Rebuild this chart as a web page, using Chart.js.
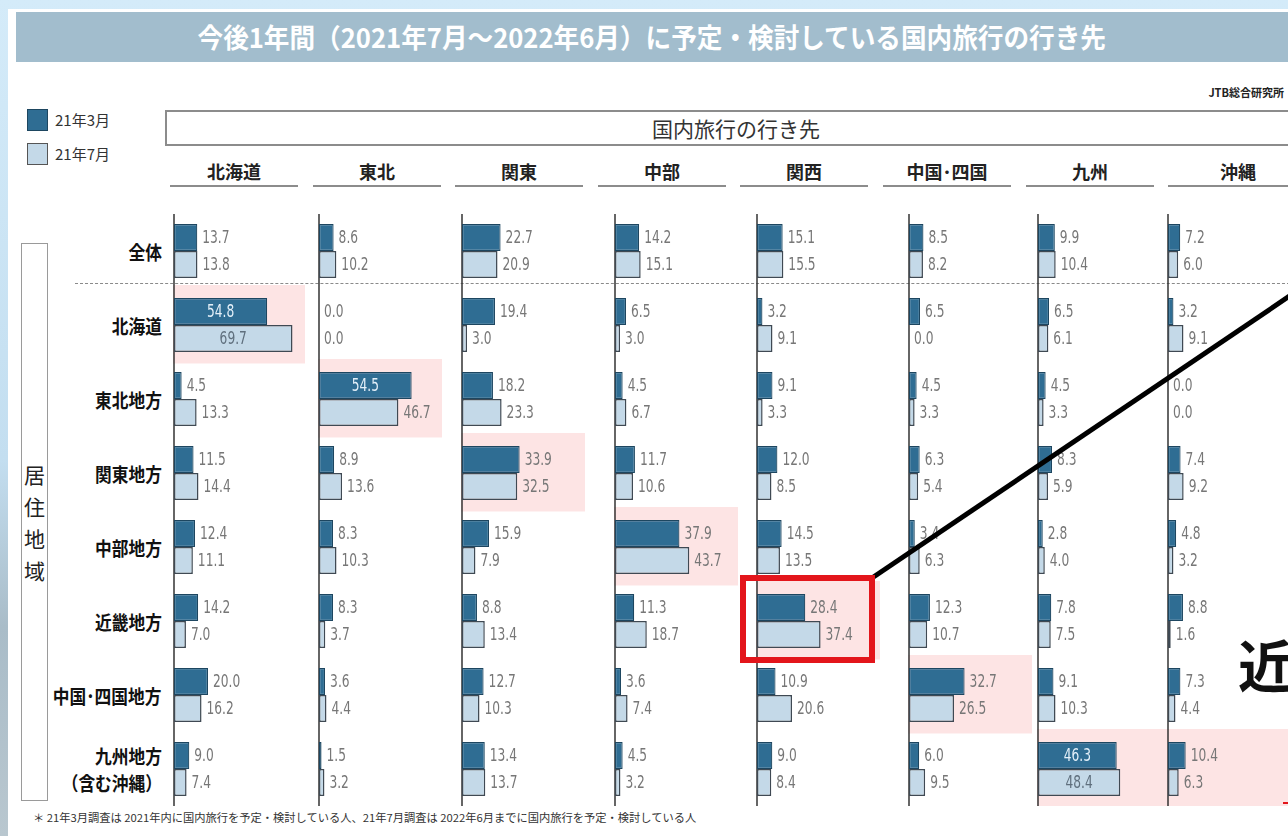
<!DOCTYPE html>
<html lang="ja">
<head>
<meta charset="utf-8">
<script src="https://cdn.jsdelivr.net/npm/chart.js@4.4.0/dist/chart.umd.min.js"></script>
<style>
  html, body { margin: 0; padding: 0; }
  body {
    width: 1288px; height: 836px; position: relative; overflow: hidden;
    background: linear-gradient(180deg, #d4ebf9 0%, #c3def0 55%, #a9bcc8 75%, #b9c7cf 100%);
    font-family: "Noto Sans CJK JP", sans-serif; color: #222;
  }
  .abs { position: absolute; }
  #page { left: 8px; top: 9px; right: 0; bottom: 0; background: #fff; }
  #banner { left: 16px; top: 12px; width: 1272px; height: 50px; background: #a2bdcd; text-align: center; }
  #title { display: inline-block; color: #fff; font-size: 27px; font-weight: 700; line-height: 50px; white-space: nowrap; transform-origin: center; }
  #src { right: 4px; top: 84px; font-size: 11px; font-weight: 700; color: #222; }
  .sw { width: 21px; height: 22px; box-sizing: border-box; }
  .lg { font-size: 15px; color: #333; line-height: 22px; }
  #hbox { left: 165px; top: 110px; width: 1140px; height: 36px; box-sizing: border-box;
          border: 2px solid #8c8c8c; border-right: none; text-align: center;
          font-size: 21px; line-height: 32px; color: #333; }
  .colh { height: 25px; border-bottom: 2px solid #8c8c8c; text-align: center;
          font-size: 18px; font-weight: 700; line-height: 22px; color: #222; }
  .rowl { right: 1126px; font-size: 19px; font-weight: 700; text-align: right; white-space: nowrap; color: #111;
          transform: scaleX(0.88); transform-origin: right center; }
  #areabox { left: 21px; top: 243px; width: 27px; height: 558px; box-sizing: border-box; border: 1.5px solid #9a9a9a; }
  #areatxt { left: 21px; width: 27px; text-align: center; font-size: 21px; line-height: 32px; color: #222; }
  #dash { left: 75px; top: 283px; width: 1220px; height: 0; border-top: 1.5px dashed #8a8a8a; }
  #note { left: 33px; top: 809px; font-size: 11px; color: #333; white-space: nowrap; transform-origin: left center; }
  #charts canvas { position: absolute; }
  #redbox { left: 740px; top: 575px; width: 135px; height: 88px; box-sizing: border-box; border: 6px solid #e3151b; }
  #big { left: 1238px; top: 634px; font-size: 56px; font-weight: 700; line-height: 58px; color: #111; white-space: nowrap; }
  #tick { left: 1283px; top: 802px; width: 6px; height: 2px; background: #e3151b; }
</style>
</head>
<body>
<div id="page" class="abs"></div>
<div id="banner" class="abs"><span id="title">今後1年間（2021年7月～2022年6月）に予定・検討している国内旅行の行き先</span></div>
<div id="src" class="abs">JTB総合研究所</div>
<div id="legend"></div>
<div id="hbox" class="abs">国内旅行の行き先</div>
<div id="heads"></div>
<div id="dash" class="abs"></div>
<div id="areabox" class="abs"></div>
<div id="areatxt" class="abs">居<br>住<br>地<br>域</div>
<div id="rows"></div>
<div id="charts"></div>
<div id="note" class="abs">＊ 21年3月調査は 2021年内に国内旅行を予定・検討している人、21年7月調査は 2022年6月までに国内旅行を予定・検討している人</div>
<svg class="abs" style="left:0;top:0" width="1288" height="836">
  <line x1="872" y1="578" x2="1300" y2="289" stroke="#000" stroke-width="5"/>
</svg>
<div id="redbox" class="abs"></div>
<div id="big" class="abs">近畿</div>
<div id="tick" class="abs"></div>

<script>
/* 居住地域 (rows) / 行き先 (columns) */
const areas = ['全体', '北海道', '東北地方', '関東地方', '中部地方', '近畿地方', '中国･四国地方', '九州地方\n（含む沖縄）'];
const dests = ['北海道', '東北', '関東', '中部', '関西', '中国･四国', '九州', '沖縄'];
const seriesNames = ['21年3月', '21年7月'];

/* 値 (%) : 21年3月 / 21年7月, rows in the order of areas */
const hokkaido_mar = [13.7, 54.8, 4.5, 11.5, 12.4, 14.2, 20.0, 9.0];
const hokkaido_jul = [13.8, 69.7, 13.3, 14.4, 11.1, 7.0, 16.2, 7.4];
const tohoku_mar = [8.6, 0.0, 54.5, 8.9, 8.3, 8.3, 3.6, 1.5];
const tohoku_jul = [10.2, 0.0, 46.7, 13.6, 10.3, 3.7, 4.4, 3.2];
const kanto_mar = [22.7, 19.4, 18.2, 33.9, 15.9, 8.8, 12.7, 13.4];
const kanto_jul = [20.9, 3.0, 23.3, 32.5, 7.9, 13.4, 10.3, 13.7];
const chubu_mar = [14.2, 6.5, 4.5, 11.7, 37.9, 11.3, 3.6, 4.5];
const chubu_jul = [15.1, 3.0, 6.7, 10.6, 43.7, 18.7, 7.4, 3.2];
const kansai_mar = [15.1, 3.2, 9.1, 12.0, 14.5, 28.4, 10.9, 9.0];
const kansai_jul = [15.5, 9.1, 3.3, 8.5, 13.5, 37.4, 20.6, 8.4];
const chushi_mar = [8.5, 6.5, 4.5, 6.3, 3.4, 12.3, 32.7, 6.0];
const chushi_jul = [8.2, 0.0, 3.3, 5.4, 6.3, 10.7, 26.5, 9.5];
const kyushu_mar = [9.9, 6.5, 4.5, 8.3, 2.8, 7.8, 9.1, 46.3];
const kyushu_jul = [10.4, 6.1, 3.3, 5.9, 4.0, 7.5, 10.3, 48.4];
const okinawa_mar = [7.2, 3.2, 0.0, 7.4, 4.8, 8.8, 7.3, 10.4];
const okinawa_jul = [6.0, 9.1, 0.0, 9.2, 3.2, 1.6, 4.4, 6.3];

const marByCol = [hokkaido_mar, tohoku_mar, kanto_mar, chubu_mar, kansai_mar, chushi_mar, kyushu_mar, okinawa_mar];
const julByCol = [hokkaido_jul, tohoku_jul, kanto_jul, chubu_jul, kansai_jul, chushi_jul, kyushu_jul, okinawa_jul];

/* cells with pink background: [column, row] */
const highlight = [[0, 1], [1, 2], [2, 3], [3, 4], [4, 5], [5, 6], [6, 7], [7, 7]];
/* labels written inside the bar: [column, row, dataset] */
const insideLabels = [[0, 1, 0], [0, 1, 1], [1, 2, 0], [6, 7, 0], [6, 7, 1]];

/* layout */
const axisX = [174, 319, 462, 615, 757, 909, 1038, 1168];
const PX_PER_PCT = 1.70;
const CHART_TOP = 214, CHART_H = 592;
const DARK = '#2f6d93', DARK_EDGE = '#1d4660';
const LIGHT = '#c4d9e8', LIGHT_EDGE = '#3f4953';
const PINK = '#fde4e4';

function isInside(col, row, di) {
	return insideLabels.some(function(a) { return a[0] === col && a[1] === row && a[2] === di; });
}

const cellPlugin = {
	id: 'cells',
	beforeDatasetsDraw(chart, args, opts) {
		const ctx = chart.ctx, xs = chart.scales.x, ys = chart.scales.y, area = chart.chartArea;
		const band = area.height / areas.length;
		const x0 = xs.getPixelForValue(0);

		ctx.save();
		ctx.fillStyle = PINK;
		highlight.forEach(function(h) {
			if (h[0] !== opts.col) return;
			const yc = ys.getPixelForValue(h[1]);
			let left = x0 - 1;
			let right = x0 + (opts.col === 0 ? 131 : 123);
			if (opts.col === 6) right = chart.width;
			if (opts.col === 7) { left = 0; right = chart.width; }
			ctx.fillRect(left, yc - band * 0.54, right - left, band * 1.06);
		});

		/* vertical axis */
		ctx.strokeStyle = '#333';
		ctx.lineWidth = 1.5;
		ctx.beginPath();
		ctx.moveTo(x0, area.top - 1);
		ctx.lineTo(x0, area.bottom + 1);
		ctx.stroke();
		ctx.restore();
	},
	afterDatasetsDraw(chart, args, opts) {
		const ctx = chart.ctx;
		ctx.save();
		ctx.font = '17px "DejaVu Sans"';
		ctx.textBaseline = 'middle';
		chart.data.datasets.forEach(function(ds, di) {
			chart.getDatasetMeta(di).data.forEach(function(bar, i) {
				const txt = ds.data[i].toFixed(1);
				let x;
				if (isInside(opts.col, i, di)) {
					ctx.textAlign = 'center';
					ctx.fillStyle = di === 0 ? '#e4f0f9' : '#5f6f7d';
					x = (bar.base + bar.x) / 2;
				} else {
					ctx.textAlign = 'left';
					ctx.fillStyle = '#777';
					x = bar.x + 5;
				}
				ctx.save();
				ctx.translate(x, bar.y + 1);
				ctx.scale(0.72, 1);
				ctx.fillText(txt, 0, 0);
				ctx.restore();
			});
		});
		ctx.restore();
	}
};

function makeColumn(ci) {
	const left = axisX[ci] - 2;
	const right = ci < axisX.length - 1 ? axisX[ci + 1] - 2 : 1288;
	const w = right - left;

	const cv = document.createElement('canvas');
	cv.width = w;
	cv.height = CHART_H;
	cv.style.left = left + 'px';
	cv.style.top = CHART_TOP + 'px';
	document.getElementById('charts').appendChild(cv);

	return new Chart(cv, {
		type: 'bar',
		data: {
			labels: areas,
			datasets: [
				{ label: seriesNames[0], data: marByCol[ci], backgroundColor: DARK, borderColor: DARK_EDGE, borderWidth: 1.2, borderSkipped: false },
				{ label: seriesNames[1], data: julByCol[ci], backgroundColor: LIGHT, borderColor: LIGHT_EDGE, borderWidth: 1.5, borderSkipped: false }
			]
		},
		options: {
			indexAxis: 'y',
			responsive: false,
			animation: false,
			layout: { padding: { left: 2, right: 0, top: 0, bottom: 0 } },
			datasets: { bar: { categoryPercentage: 0.73, barPercentage: 1.0 } },
			scales: {
				x: { display: false, min: 0, max: (w - 2) / PX_PER_PCT },
				y: { display: false }
			},
			plugins: {
				legend: { display: false },
				tooltip: { enabled: false },
				cells: { col: ci }
			}
		},
		plugins: [cellPlugin]
	});
}

const charts = [];
for (let i = 0; i < dests.length; i++) {
	charts.push(makeColumn(i));
}

/* column headers */
const heads = document.getElementById('heads');
dests.forEach(function(d, i) {
	const el = document.createElement('div');
	el.className = 'abs colh';
	el.style.left = Math.round(170 + 142.6 * i) + 'px';
	el.style.top = '160px';
	el.style.width = (i < dests.length - 1 ? 128 : 140) + 'px';
	el.textContent = d;
	heads.appendChild(el);
});

/* row labels, placed on the first chart's category scale */
const ys = charts[0].scales.y;
const rowsEl = document.getElementById('rows');
areas.forEach(function(a, i) {
	const el = document.createElement('div');
	el.className = 'abs rowl';
	const lines = a.split('\n');
	el.innerHTML = lines.join('<br>');
	el.style.lineHeight = '27px';
	el.style.top = (CHART_TOP + ys.getPixelForValue(i) - lines.length * 13.5) + 'px';
	rowsEl.appendChild(el);
});

/* 居住地域 text centred in its box */
const at = document.getElementById('areatxt');
at.style.top = (243 + 558 / 2 - 64) + 'px';

/* legend */
const legend = document.getElementById('legend');
seriesNames.forEach(function(s, i) {
	const sw = document.createElement('div');
	sw.className = 'abs sw';
	sw.style.left = '27px';
	sw.style.top = (109 + i * 34) + 'px';
	sw.style.background = i === 0 ? DARK : LIGHT;
	sw.style.border = '1.5px solid ' + (i === 0 ? DARK_EDGE : '#555');
	legend.appendChild(sw);
	const t = document.createElement('div');
	t.className = 'abs lg';
	t.style.left = '55px';
	t.style.top = (109 + i * 34) + 'px';
	t.textContent = s;
	legend.appendChild(t);
});

/* fit the long texts to their width in the picture */
const title = document.getElementById('title');
title.style.transform = 'scaleX(' + (908 / title.offsetWidth) + ')';
const note = document.getElementById('note');
note.style.transform = 'scaleX(' + (663 / note.offsetWidth) + ')';
</script>
</body>
</html>
